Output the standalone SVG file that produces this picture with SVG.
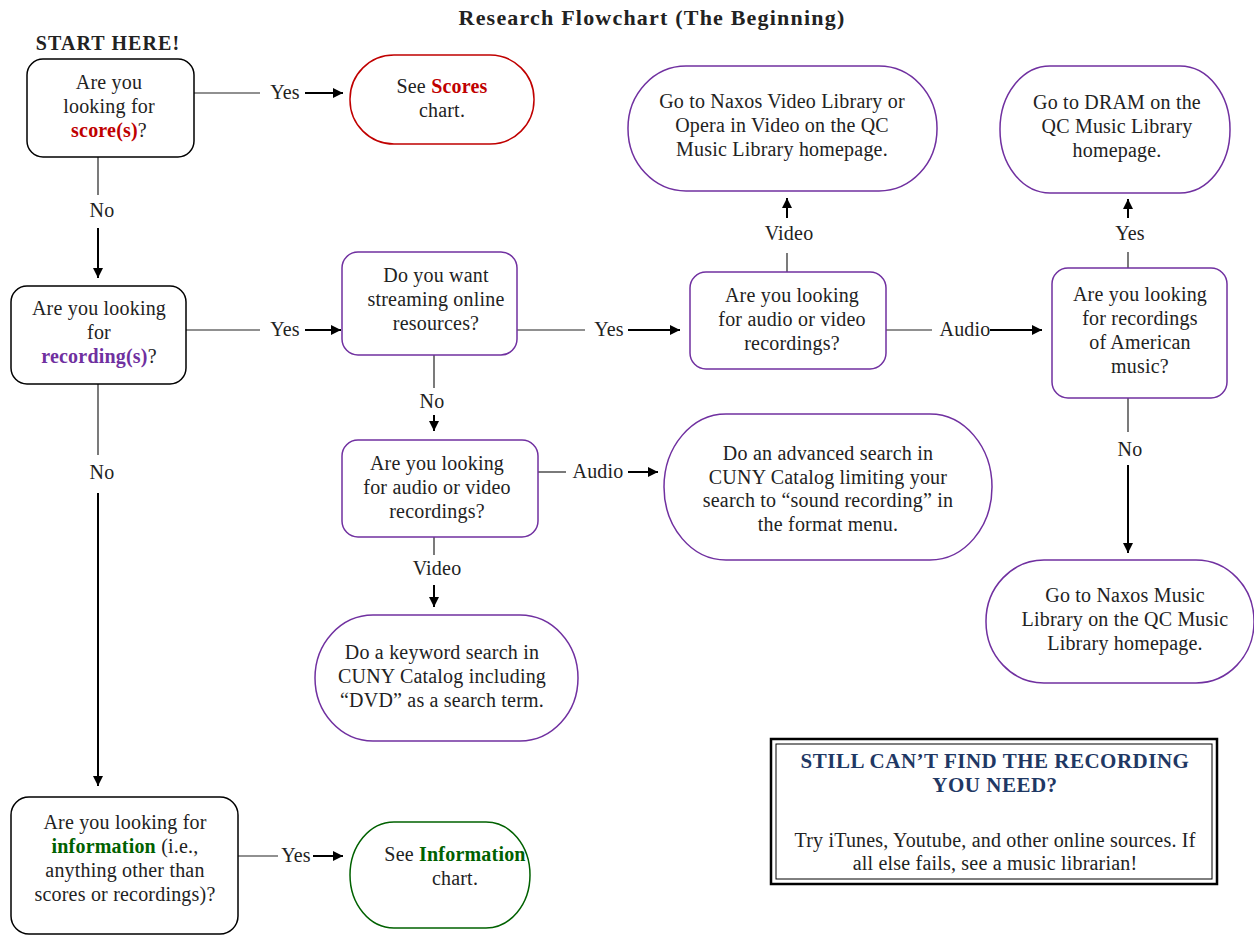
<svg xmlns="http://www.w3.org/2000/svg" width="1254" height="935" viewBox="0 0 1254 935">
<defs>
<marker id="ah" viewBox="0 0 10 10" refX="10" refY="5" markerWidth="10" markerHeight="10" markerUnits="userSpaceOnUse" orient="auto">
<path d="M0,0 L10,5 L0,10 z" fill="#000"/>
</marker>
</defs>
<style>
text{font-family:"Liberation Serif","Times New Roman",serif;font-size:20px;fill:#222;text-anchor:middle;letter-spacing:0.2px}
.b{font-weight:bold}
.q{fill:#fff;stroke:#000;stroke-width:1.5}
.p{fill:#fff;stroke:#7030a0;stroke-width:1.5}
.r{fill:#fff;stroke:#c00000;stroke-width:1.5}
.g{fill:#fff;stroke:#006100;stroke-width:1.5}
.ln{stroke:#222;stroke-width:1.2;fill:none}
.ar{stroke:#000;stroke-width:2;fill:none;marker-end:url(#ah)}
.red{fill:#c00000;font-weight:bold}
.pur{fill:#7030a0;font-weight:bold}
.grn{fill:#006100;font-weight:bold}
.navy{fill:#1f3864;font-weight:bold;font-size:21px;letter-spacing:0.5px}
</style>
<rect width="1254" height="935" fill="#fff"/>
<text class="b" x="652" y="25" style="font-size:22px;letter-spacing:1.2px">Research Flowchart (The Beginning)</text>
<text class="b" x="108" y="50" style="letter-spacing:1.1px">START HERE!</text>

<g id="connectors">
<line class="ln" x1="194" y1="93" x2="260" y2="93"/>
<text x="285" y="99">Yes</text>
<line class="ar" x1="305" y1="93" x2="343" y2="93"/>

<line class="ln" x1="98" y1="157" x2="98" y2="195"/>
<text x="102" y="217">No</text>
<line class="ar" x1="98" y1="228" x2="98" y2="278"/>

<line class="ln" x1="186" y1="330" x2="260" y2="330"/>
<text x="285" y="336">Yes</text>
<line class="ar" x1="305" y1="330" x2="341" y2="330"/>

<line class="ln" x1="517" y1="330" x2="585" y2="330"/>
<text x="609" y="336">Yes</text>
<line class="ar" x1="628" y1="330" x2="680" y2="330"/>

<line class="ln" x1="787" y1="272" x2="787" y2="253"/>
<text x="789" y="240">Video</text>
<line class="ar" x1="787" y1="218" x2="787" y2="198"/>

<line class="ln" x1="886" y1="330" x2="932" y2="330"/>
<text x="965" y="336">Audio</text>
<line class="ar" x1="990" y1="330" x2="1042" y2="330"/>

<line class="ln" x1="1128" y1="268" x2="1128" y2="252"/>
<text x="1130" y="240">Yes</text>
<line class="ar" x1="1128" y1="218" x2="1128" y2="199"/>

<line class="ln" x1="1128" y1="398" x2="1128" y2="432"/>
<text x="1130" y="456">No</text>
<line class="ar" x1="1128" y1="465" x2="1128" y2="553"/>

<line class="ln" x1="434" y1="355" x2="434" y2="388"/>
<text x="432" y="408">No</text>
<line class="ar" x1="434" y1="415" x2="434" y2="431"/>

<line class="ln" x1="538" y1="472" x2="566" y2="472"/>
<text x="598" y="478">Audio</text>
<line class="ar" x1="628" y1="472" x2="658" y2="472"/>

<line class="ln" x1="434" y1="537" x2="434" y2="555"/>
<text x="437" y="575">Video</text>
<line class="ar" x1="434" y1="585" x2="434" y2="607"/>

<line class="ln" x1="98" y1="384" x2="98" y2="455"/>
<text x="102" y="479">No</text>
<line class="ar" x1="98" y1="493" x2="98" y2="786"/>

<line class="ln" x1="238" y1="856" x2="278" y2="856"/>
<text x="296" y="862">Yes</text>
<line class="ar" x1="313" y1="856" x2="343" y2="856"/>
</g>

<g id="n-scores-q">
<rect class="q" x="27" y="59" width="167" height="98" rx="16"/>
<text x="109" y="89">Are you</text>
<text x="109" y="113">looking for</text>
<text x="109" y="137"><tspan class="red">score(s)</tspan>?</text>
</g>

<g id="n-scores">
<rect class="r" x="350" y="55" width="184" height="89" rx="44" ry="44"/>
<text x="442" y="93">See <tspan class="red">Scores</tspan></text>
<text x="442" y="117">chart.</text>
</g>

<g id="n-recording-q">
<rect class="q" x="11" y="286" width="175" height="98" rx="16"/>
<text x="99" y="315">Are you looking</text>
<text x="99" y="339">for</text>
<text x="99" y="363"><tspan class="pur">recording(s)</tspan>?</text>
</g>

<g id="n-streaming">
<rect class="p" x="342" y="252" width="175" height="103" rx="16"/>
<text x="436" y="282">Do you want</text>
<text x="436" y="306">streaming online</text>
<text x="436" y="330">resources?</text>
</g>

<g id="n-av-stream">
<rect class="p" x="690" y="272" width="196" height="97" rx="16"/>
<text x="792" y="302">Are you looking</text>
<text x="792" y="326">for audio or video</text>
<text x="792" y="350">recordings?</text>
</g>

<g id="n-naxos-video">
<rect class="p" x="628" y="66" width="309" height="125" rx="58" ry="62"/>
<text x="782" y="108">Go to Naxos Video Library or</text>
<text x="782" y="132">Opera in Video on the QC</text>
<text x="782" y="156">Music Library homepage.</text>
</g>

<g id="n-american">
<rect class="p" x="1052" y="268" width="175" height="130" rx="16"/>
<text x="1140" y="301">Are you looking</text>
<text x="1140" y="325">for recordings</text>
<text x="1140" y="349">of American</text>
<text x="1140" y="373">music?</text>
</g>

<g id="n-dram">
<rect class="p" x="1000" y="66" width="230" height="127" rx="50" ry="63"/>
<text x="1117" y="109">Go to DRAM on the</text>
<text x="1117" y="133">QC Music Library</text>
<text x="1117" y="157">homepage.</text>
</g>

<g id="n-naxos-music">
<rect class="p" x="986" y="560" width="268" height="123" rx="58" ry="61"/>
<text x="1125" y="602">Go to Naxos Music</text>
<text x="1125" y="626">Library on the QC Music</text>
<text x="1125" y="650">Library homepage.</text>
</g>

<g id="n-av-catalog">
<rect class="p" x="342" y="440" width="196" height="97" rx="16"/>
<text x="437" y="470">Are you looking</text>
<text x="437" y="494">for audio or video</text>
<text x="437" y="518">recordings?</text>
</g>

<g id="n-advanced">
<rect class="p" x="664" y="414" width="328" height="146" rx="62" ry="73"/>
<text x="828" y="460">Do an advanced search in</text>
<text x="828" y="484">CUNY Catalog limiting your</text>
<text x="828" y="507">search to “sound recording” in</text>
<text x="828" y="531">the format menu.</text>
</g>

<g id="n-dvd">
<rect class="p" x="315" y="615" width="263" height="126" rx="58" ry="63"/>
<text x="442" y="659">Do a keyword search in</text>
<text x="442" y="683">CUNY Catalog including</text>
<text x="442" y="707">“DVD” as a search term.</text>
</g>

<g id="n-information-q">
<rect class="q" x="11" y="797" width="227" height="137" rx="18"/>
<text x="125" y="829">Are you looking for</text>
<text x="125" y="853"><tspan class="grn">information</tspan> (i.e.,</text>
<text x="125" y="877">anything other than</text>
<text x="125" y="901">scores or recordings)?</text>
</g>

<g id="n-information">
<rect class="g" x="350" y="822" width="180" height="106" rx="44" ry="53"/>
<text x="455" y="861">See <tspan class="grn">Information</tspan></text>
<text x="455" y="885">chart.</text>
</g>

<g id="n-still">
<rect x="771" y="739" width="446" height="145" fill="#fff" stroke="#000" stroke-width="2.5"/>
<rect x="776" y="744" width="436" height="135" fill="none" stroke="#000" stroke-width="1"/>
<text class="navy" x="995" y="768">STILL CAN’T FIND THE RECORDING</text>
<text class="navy" x="995" y="792">YOU NEED?</text>
<text x="995" y="847">Try iTunes, Youtube, and other online sources. If</text>
<text x="995" y="870">all else fails, see a music librarian!</text>
</g>
</svg>
